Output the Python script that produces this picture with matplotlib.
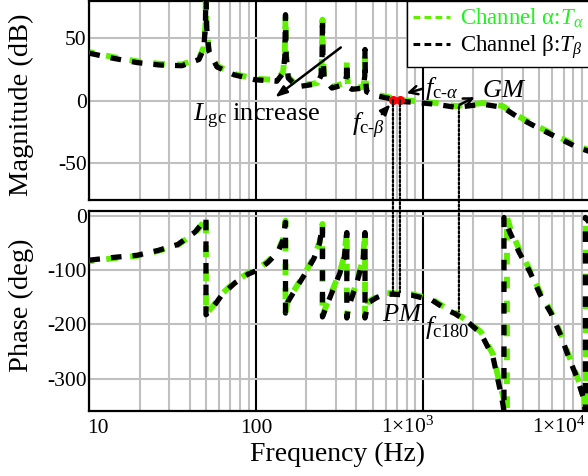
import matplotlib
matplotlib.use('Agg')
import matplotlib.pyplot as plt
from matplotlib.lines import Line2D
from matplotlib.patches import ConnectionPatch
from matplotlib.ticker import NullFormatter
from matplotlib.transforms import ScaledTranslation

plt.rcParams['font.family'] = ['Liberation Serif', 'DejaVu Serif']
plt.rcParams['mathtext.fontset'] = 'custom'
plt.rcParams['mathtext.rm'] = 'Liberation Serif'
plt.rcParams['mathtext.it'] = 'Liberation Serif:italic'
plt.rcParams['axes.unicode_minus'] = False

#%% loop gain magnitude (dB), both channels on one frequency grid (Hz)
freq_mag = [10, 13.8, 19.3, 26.5, 35.9, 45.4, 48.5, 49.6, 50, 50.4, 52, 58.2, 73.6, 98.4,
            133, 145, 148.5, 150, 151.5, 156, 176, 232, 245, 248.5, 250, 251.5, 256, 285,
            340, 348.5, 350, 351.5, 356, 376, 440, 448.5, 450, 451.5, 460, 516, 635, 700,
            897, 1199, 1581, 2296, 3026, 3722, 4908, 6471, 8414, 10000]
mag_b = [38, 34, 30.5, 28.5, 28, 33, 42, 60, 95, 60, 40, 27, 20.7, 16.7,
         15.5, 22, 35, 69, 35, 18, 11, 13.4, 20, 35, 66, 35, 18, 10,
         13, 20, 30.5, 20, 11, 9, 10, 20, 41, 20, 7, 4, 1.5, -0.5,
         -1.5, -3, -5.5, -3, -5.5, -13.5, -22, -30, -37.5, -41]
mag_a = [39, 35, 31.5, 29.5, 29, 34, 43, 61, 95, 61, 41, 28, 21.5, 17.5,
         16.5, 23, 36, 68, 36, 19, 12, 14, 21, 36, 65, 36, 19, 11,
         14, 21, 31.5, 21, 12, 10, 11, 21, 40, 21, 8, 5, 2.5, 0.5,
         -0.5, -2, -4.5, -2, -4.5, -12.5, -21, -29, -36.5, -40]

#%% loop gain phase (deg)
freq_ph_b = [10, 14.4, 19.3, 25.8, 33.9, 43, 48, 50, 50, 55.1, 62.4, 74.6, 89.3, 102.6,
             117.8, 135.2, 144.9, 150, 150, 155, 172, 195, 222, 240, 250, 250, 265, 290,
             318, 338, 350, 350, 358, 400, 438, 450, 450, 470, 530, 593, 662, 861, 1135,
             1396, 1560, 1892, 2234, 2636, 2904, 3026, 3069, 3069, 3334, 3776, 4395, 5047,
             5875, 6745, 7530, 8410, 9270, 9450, 9450, 10000]
ph_b = [-81, -75.5, -72, -63, -52, -29, -11, -4, -182, -168, -145, -123, -107, -99,
        -85, -66, -44, -11, -179, -158, -135, -108, -78, -50, -17, -186, -165, -135,
        -105, -75, -30, -188, -168, -125, -80, -30, -188, -160, -150, -144, -144, -146, -155,
        -173, -180, -197, -217, -260, -320, -348, -360, -2, -30, -66, -103, -144,
        -179, -221, -262, -298, -339, -360, -2, -12]
freq_ph_a = [10, 14.4, 19.3, 25.8, 33.9, 43, 48, 50, 50, 55.1, 62.4, 74.6, 89.3, 102.6,
             117.8, 135.2, 144.9, 150, 150, 155, 172, 195, 222, 240, 250, 250, 265, 290,
             318, 338, 350, 350, 358, 400, 438, 450, 450, 470, 530, 593, 662, 861, 1135,
             1396, 1560, 1892, 2234, 2636, 2904, 3090, 3198, 3198, 3400, 3800, 4400, 5047,
             5875, 6745, 7530, 8410, 9300, 9520, 9520, 10000]
ph_a = [-83, -77, -73, -64, -53, -31, -12, 0, -180, -166, -143, -121, -105, -97,
        -83, -64, -42, -8, -177, -156, -133, -106, -76, -48, -14, -184, -163, -133,
        -103, -73, -27, -186, -166, -123, -78, -28, -186, -158, -148, -142, -142, -144, -153,
        -171, -178, -195, -214, -255, -312, -342, -360, -2, -28, -62, -100, -140,
        -176, -218, -258, -295, -333, -360, -2, -8]

# crossover / 180 deg crossing markers
fc_freq = [662, 729]
fc_mag = [0.5, 0.5]
fc_phase = [-140, -140]
f180 = 1647
f180_mag = -5
f180_phase = -176

xticks = [10, 100, 1000, 10000]
xticklabels = ['10', '100', '1×10$^{3}$', '1×10$^{4}$']

GREEN = '#5ef000'
GREEN_TXT = '#22f022'
GRID = '#c0c0c0'

fg = plt.figure(figsize=(5.88, 4.76), dpi=100)
axm = fg.add_axes([0.1522, 0.5798, 0.8503, 0.4181])
axp = fg.add_axes([0.1522, 0.1366, 0.8503, 0.4202], sharex=axm)

axm.plot(freq_mag, mag_a, color=GREEN, lw=4.2, ls=(1.2, (2.0, 2.1)), zorder=3)
axm.plot(freq_mag, mag_b, color='k', lw=3.8, ls=(0, (2.0, 2.1)), zorder=4)
axp.plot(freq_ph_a, ph_a, color=GREEN, lw=4.2, ls=(1.2, (2.0, 2.1)), zorder=3)
axp.plot(freq_ph_b, ph_b, color='k', lw=3.8, ls=(0, (2.0, 2.1)), zorder=4)

for ax in (axm, axp):
    ax.set_xscale('log')
    ax.set_xlim(10, 10000)
    ax.grid(which='minor', axis='x', color=GRID, lw=1.5)
    ax.grid(which='major', axis='x', color='k', lw=1.5)
    ax.grid(which='major', axis='y', color=GRID, lw=1.5)
    ax.set_axisbelow(True)
    ax.tick_params(which='both', length=0, labelsize=15.5)
    ax.tick_params(axis='y', pad=2)
    for sp in ax.spines.values():
        sp.set_linewidth(1.6)

axm.set_ylim(-80, 80)
axm.set_yticks([-50, 0, 50])
axm.tick_params(labelbottom=False)
axp.set_ylim(-360, 10)
axp.set_yticks([-300, -200, -100, 0])

axp.set_xticks(xticks)
axp.set_xticklabels(xticklabels, va='baseline')
axp.xaxis.set_minor_formatter(NullFormatter())
axp.tick_params(axis='x', pad=16)
for lbl, dx in zip(axp.get_xticklabels(), [8.5, 0, -15, -31]):
    lbl.set_transform(lbl.get_transform() + ScaledTranslation(dx / 100, 0, fg.dpi_scale_trans))

# ylabel anchor is the right edge of the rotated text
axm.set_ylabel('Magnitude (dB)', fontsize=20.5)
axm.yaxis.set_label_coords(-0.111, 0.48)
axp.set_ylabel('Phase (deg)', fontsize=20.5)
axp.yaxis.set_label_coords(-0.111, 0.53)
axp.set_xlabel('Frequency (Hz)', fontsize=20)
axp.xaxis.set_label_coords(0.496, -0.155)

# legend with thinner dash samples
h1 = Line2D([], [], color=GREEN, lw=2.2, ls=(0, (2.2, 1.4)))
h2 = Line2D([], [], color='k', lw=2.2, ls=(0, (2.2, 1.4)))
leg = axm.legend([h1, h2], ['Channel α:$T_{\\alpha}$', 'Channel β:$T_{\\beta}$'],
                 loc='upper right', fontsize=16.5, fancybox=False, edgecolor='k',
                 framealpha=1, borderaxespad=0, handlelength=1.6, handletextpad=0.45,
                 labelspacing=0.15, borderpad=0.25)
leg.get_frame().set_linewidth(1.0)
leg.get_texts()[0].set_color(GREEN_TXT)
leg.set_zorder(6)

#%% annotations
axm.plot(fc_freq, fc_mag, 'o', color='red', ms=5.5, zorder=7)
for f, m, p in zip(fc_freq, fc_mag, fc_phase):
    con = ConnectionPatch(xyA=(f, m), coordsA=axm.transData, xyB=(f, p), coordsB=axp.transData,
                          color='k', lw=1.6, ls=(0, (1, 1)), zorder=5)
    fg.add_artist(con)
con = ConnectionPatch(xyA=(f180, f180_mag), coordsA=axm.transData, xyB=(f180, f180_phase),
                      coordsB=axp.transData, color='k', lw=1.6, ls=(0, (1, 1)), zorder=5)
fg.add_artist(con)

axm.annotate('', xy=(126, 1.2), xytext=(332, 44),
             arrowprops=dict(arrowstyle='-|>,head_length=0.7,head_width=0.25', color='k', lw=1.8))
axm.text(41.8, -12.6, '$L_{\\mathrm{gc}}$ increase', fontsize=19, ha='left', va='center')

axm.annotate('', xy=(655, -1.5), xytext=(553, -12.6),
             arrowprops=dict(arrowstyle='-|>,head_length=0.6,head_width=0.25', color='k', lw=1.8))
axm.text(376, -20.7, '$f_{\\mathrm{c\\text{-}}\\beta}$', fontsize=19, ha='left', va='center')

axm.annotate('', xy=(771, 5.3), xytext=(1030, 10),
             arrowprops=dict(arrowstyle='->,head_length=0.6,head_width=0.3', color='k', lw=1.8))
axm.text(1030, 9.3, '$f_{\\mathrm{c\\text{-}}\\alpha}$', fontsize=19, ha='left', va='center')

axm.annotate('', xy=(2113, 3.7), xytext=(1606, -4.5),
             arrowprops=dict(arrowstyle='->,head_length=0.6,head_width=0.3', color='k', lw=1.8))
axm.text(2264, 7.7, '$GM$', fontsize=19, ha='left', va='center')

axp.text(569, -182, '$PM$', fontsize=19, ha='left', va='center')
axp.text(1030, -206, '$f_{\\mathrm{c180}}$', fontsize=19, ha='left', va='center')

fg.savefig('out.png', dpi=100)
